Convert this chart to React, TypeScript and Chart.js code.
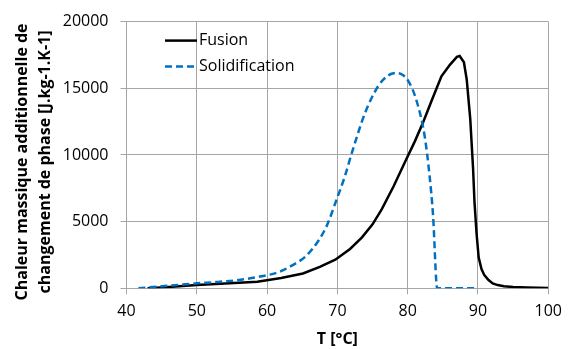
import React, { useEffect, useRef } from "react";
import { Chart, registerables } from "chart.js";

Chart.register(...registerables);

const fusionT = [43, 46, 50, 54, 58.6, 62, 65.1, 67.5, 69.7, 71.8, 73.5, 75, 76.3, 78, 79.6, 81, 82.2, 83.5, 84.8, 86.0, 87.0, 87.4, 88.0, 88.4, 88.9, 89.3, 89.5, 89.8, 90.1, 90.5, 90.9, 91.5, 92.1, 92.8, 93.7, 95, 97, 100];
const fusionCp = [0, 90, 240, 360, 490, 780, 1110, 1600, 2145, 2950, 3817, 4800, 5917, 7650, 9450, 11000, 12450, 14200, 15900, 16760, 17350, 17420, 16950, 15650, 12700, 9000, 6500, 4100, 2300, 1450, 985, 620, 370, 240, 150, 100, 60, 30];

const solidT = [41.7, 45, 50, 53, 56, 59, 61.7, 63.5, 65.5, 67.3, 68.5, 69.8, 71, 72.1, 73.9, 75.8, 77.2, 78.4, 79.3, 80.1, 81.2, 82.4, 83.1, 83.6, 84.2, 89.5];
const solidCp = [0, 150, 370, 480, 620, 880, 1230, 1700, 2400, 3570, 4700, 6530, 8300, 10230, 13100, 15160, 15950, 16150, 16000, 15530, 14170, 11460, 8500, 5550, 0, 0];

const seriesNames = ["Fusion", "Solidification"];
const seriesColors = ["#000000", "#0070C0"];

const xMin = 40, xMax = 100, xStep = 10;
const yMin = 0, yMax = 20000, yStep = 5000;

const xTitle = "T [°C]";
const yTitle = ["Chaleur massique additionnelle de", "changement de phase [J.kg-1.K-1]"];

const FONT = "'Open Sans', 'Liberation Sans', sans-serif";
const GRID = "#a6a6a6";

const overlayPlugin = {
  id: "overlay",
  afterDraw(chart: any) {
    const { ctx, chartArea } = chart;
    const x0 = chartArea.left + 38.5;
    const lineLen = 32;
    const rows = [chartArea.top + 19, chartArea.top + 45];
    ctx.save();
    ctx.font = `16px ${FONT}`;
    ctx.textBaseline = "middle";
    ctx.textAlign = "left";
    seriesNames.forEach((name, i) => {
      const y = rows[i];
      ctx.beginPath();
      ctx.strokeStyle = seriesColors[i];
      ctx.lineWidth = 2.5;
      ctx.setLineDash(i === 0 ? [] : [7, 4]);
      ctx.moveTo(x0, y);
      ctx.lineTo(x0 + lineLen, y);
      ctx.stroke();
      ctx.setLineDash([]);
      ctx.fillStyle = "#000";
      ctx.fillText(name, x0 + lineLen + 2, y);
    });
    ctx.restore();

    // y axis title (two lines, rotated)
    const cy = (chartArea.top + chartArea.bottom) / 2 + 7;
    ctx.save();
    ctx.font = `bold 16px ${FONT}`;
    ctx.fillStyle = "#000";
    ctx.textAlign = "center";
    ctx.textBaseline = "middle";
    const xs = [22, 45];
    yTitle.forEach((line, i) => {
      ctx.save();
      ctx.translate(xs[i], cy);
      ctx.rotate(-Math.PI / 2);
      ctx.fillText(line, 0, 0);
      ctx.restore();
    });
    ctx.restore();
  },
};

export default function App() {
  const ref = useRef<HTMLCanvasElement | null>(null);
  useEffect(() => {
    document.body.style.margin = "0";
    const canvas = ref.current!;
    const chart = new Chart(canvas, {
      type: "line",
      data: {
        datasets: [
          {
            label: seriesNames[0],
            data: fusionT.map((t, i) => ({ x: t, y: fusionCp[i] })),
            borderColor: seriesColors[0],
            borderWidth: 2.5,
            pointRadius: 0,
            tension: 0,
            order: 1,
          },
          {
            label: seriesNames[1],
            data: solidT.map((t, i) => ({ x: t, y: solidCp[i] })),
            borderColor: seriesColors[1],
            borderWidth: 2.5,
            borderDash: [7, 4],
            pointRadius: 0,
            cubicInterpolationMode: "monotone",
            order: 0,
          },
        ],
      },
      options: {
        responsive: false,
        animation: false,
        layout: { padding: { top: 18, right: 19.3, left: 0, bottom: 0 } },
        plugins: { legend: { display: false }, tooltip: { enabled: false } },
        scales: {
          x: {
            type: "linear",
            min: xMin,
            max: xMax,
            ticks: { stepSize: xStep, color: "#000", font: { family: FONT, size: 16 }, padding: 8, maxRotation: 0, callback: (v: any) => String(v) },
            grid: { color: GRID, tickLength: 6, lineWidth: 1 },
            border: { color: GRID },
            title: { display: true, text: xTitle, color: "#000", font: { family: FONT, size: 16, weight: "bold" }, padding: { top: 0, bottom: 0 } },
            afterFit(scale: any) { scale.height = 60.7; },
          },
          y: {
            type: "linear",
            min: yMin,
            max: yMax,
            ticks: { stepSize: yStep, color: "#000", font: { family: FONT, size: 16 }, padding: 12, callback: (v: any) => String(v) },
            grid: { color: GRID, tickLength: 6, lineWidth: 1 },
            border: { color: GRID },
            title: { display: false },
            afterFit(scale: any) { scale.width = 126.5; },
          },
        },
      },
      plugins: [overlayPlugin],
    });
    return () => chart.destroy();
  }, []);
  return <canvas ref={ref} width={570} height={349} style={{ display: "block" }} />;
}
